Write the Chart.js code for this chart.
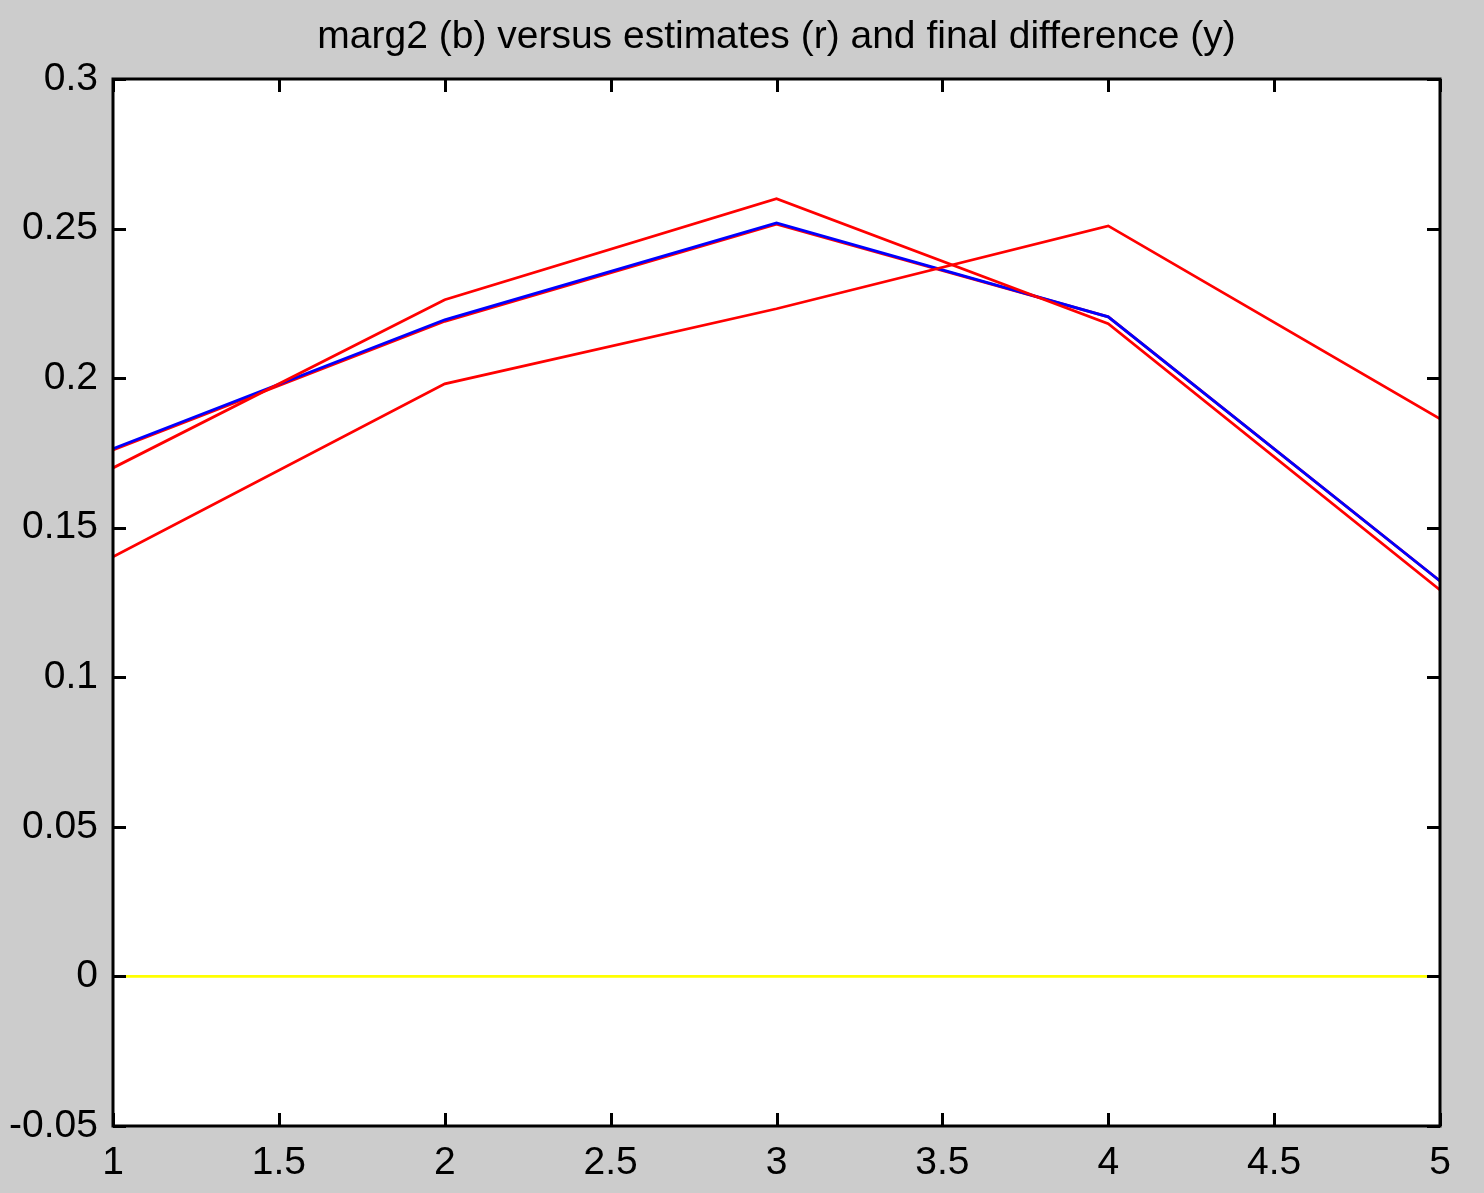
<!DOCTYPE html>
<html>
<head>
<meta charset="utf-8">
<script src="https://cdn.jsdelivr.net/npm/chart.js@4.4.0/dist/chart.umd.min.js"></script>
<style>
  html, body { margin: 0; padding: 0; background: #cccccc; }
  #wrap { width: 1484px; height: 1193px; position: relative; }
</style>
</head>
<body>
<div id="wrap"><canvas id="margChart"></canvas></div>
<script>
// x positions (states)
const xValues = [1, 2, 3, 4, 5];

// marg2 (blue)
const marg2 = [0.1764, 0.2195, 0.2519, 0.2205, 0.1322];
// estimates (red)
const estimateA = [0.1700, 0.2262, 0.2600, 0.2182, 0.1292];
const estimateB = [0.1403, 0.1981, 0.2232, 0.2509, 0.1864];
const estimateC = [0.1760, 0.2190, 0.2515, 0.2205, 0.1322];
// final difference (yellow)
const finalDiff = [0, 0, 0, 0, 0];

const xTicks = [1, 1.5, 2, 2.5, 3, 3.5, 4, 4.5, 5];
const yTicks = [-0.05, 0, 0.05, 0.1, 0.15, 0.2, 0.25, 0.3];
const titleText = 'marg2 (b) versus estimates (r) and final difference (y)';

const FONT = '"Liberation Sans", Arial, sans-serif';

const toPoints = (ys) => ys.map((y, i) => ({ x: xValues[i], y: y }));

// Grey figure background, white axes background
const backgroundPlugin = {
    id: 'matlabBackground',
    beforeDraw(chart) {
        const { ctx, chartArea } = chart;
        ctx.save();
        ctx.fillStyle = '#cccccc';
        ctx.fillRect(0, 0, chart.width, chart.height);
        ctx.fillStyle = '#ffffff';
        ctx.fillRect(chartArea.left, chartArea.top,
            chartArea.right - chartArea.left, chartArea.bottom - chartArea.top);
        ctx.restore();
    }
};

// Box around axes plus inward tick marks on all four sides
const boxPlugin = {
    id: 'matlabBox',
    afterDraw(chart) {
        const { ctx, chartArea } = chart;
        const xs = chart.scales.x;
        const ys = chart.scales.y;
        const len = 13;
        ctx.save();
        ctx.strokeStyle = '#000000';
        ctx.lineWidth = 3;
        ctx.beginPath();
        xTicks.forEach(v => {
            const px = Math.round(xs.getPixelForValue(v)) + 0.5;
            ctx.moveTo(px, chartArea.bottom);
            ctx.lineTo(px, chartArea.bottom - len);
            ctx.moveTo(px, chartArea.top);
            ctx.lineTo(px, chartArea.top + len);
        });
        yTicks.forEach(v => {
            const py = Math.round(ys.getPixelForValue(v)) + 0.5;
            ctx.moveTo(chartArea.left, py);
            ctx.lineTo(chartArea.left + len, py);
            ctx.moveTo(chartArea.right, py);
            ctx.lineTo(chartArea.right - len, py);
        });
        ctx.stroke();
        ctx.strokeRect(chartArea.left, chartArea.top,
            chartArea.right - chartArea.left, chartArea.bottom - chartArea.top);
        ctx.restore();
    }
};

const lineSet = (label, data, color, order) => ({
    label: label,
    data: toPoints(data),
    borderColor: color,
    backgroundColor: color,
    borderWidth: 2.8,
    pointRadius: 0,
    fill: false,
    tension: 0,
    order: order
});

const ctx = document.getElementById('margChart').getContext('2d');

new Chart(ctx, {
    type: 'line',
    data: {
        datasets: [
            lineSet('final difference', finalDiff, '#ffff00', 1),
            lineSet('estimate 1', estimateA, '#ff0000', 2),
            lineSet('estimate 2', estimateB, '#ff0000', 3),
            lineSet('marg2', marg2, '#0000ff', 4),
            lineSet('estimate 3', estimateC, '#ff0000', 5)
        ]
    },
    options: {
        responsive: true,
        maintainAspectRatio: false,
        animation: false,
        devicePixelRatio: 1,
        layout: {
            padding: { left: 0, right: 44, top: 0, bottom: 0 }
        },
        plugins: {
            legend: { display: false },
            tooltip: { enabled: false },
            title: {
                display: true,
                text: titleText,
                color: '#000000',
                fullSize: false,
                font: { family: FONT, size: 39, weight: 'normal', lineHeight: 1.2 },
                padding: { top: 14, bottom: 18.2 }
            }
        },
        scales: {
            x: {
                type: 'linear',
                min: 1,
                max: 5,
                afterBuildTicks: (scale) => {
                    scale.ticks = xTicks.map(v => ({ value: v }));
                },
                afterFit: (scale) => { scale.height = 67; },
                ticks: {
                    color: '#000000',
                    font: { family: FONT, size: 39 },
                    padding: 14,
                    maxRotation: 0,
                    autoSkip: false,
                    callback: (value) => String(value)
                },
                grid: { display: false, drawTicks: false },
                border: { display: false }
            },
            y: {
                type: 'linear',
                min: -0.05,
                max: 0.3,
                afterBuildTicks: (scale) => {
                    scale.ticks = yTicks.map(v => ({ value: v }));
                },
                afterFit: (scale) => { scale.width = 113; },
                ticks: {
                    color: '#000000',
                    font: { family: FONT, size: 39 },
                    padding: 15,
                    autoSkip: false,
                    callback: (value) => String(value)
                },
                grid: { display: false, drawTicks: false },
                border: { display: false }
            }
        }
    },
    plugins: [backgroundPlugin, boxPlugin]
});
</script>
</body>
</html>
